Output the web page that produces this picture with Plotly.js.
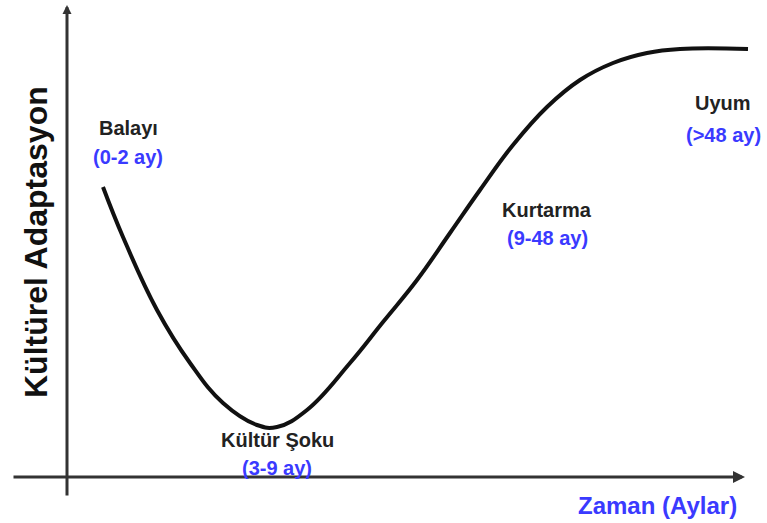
<!DOCTYPE html>
<html>
<head>
<meta charset="utf-8">
<script src="https://cdn.plot.ly/plotly-3.0.1.min.js"></script>
<style>html,body{margin:0;padding:0;background:#fff;}#chart{width:767px;height:523px;}</style>
</head>
<body>
<div id="chart"></div>
<script>
// Curve (time on x, adaptation on y; origin at axis crossing)
const curveX = [36, 56, 90, 123, 156, 190, 210, 240, 283, 316, 350, 383, 413, 446, 480, 513, 546, 580, 613, 681];
const curveY = [290, 240, 167, 114, 74, 52, 50, 67, 114, 155, 197, 244, 287, 332, 370, 397, 414, 424, 428, 428];

const phaseNames = ["Balayı", "Kültür Şoku", "Kurtarma", "Uyum"];
const phaseRanges = ["(0-2 ay)", "(3-9 ay)", "(9-48 ay)", "(>48 ay)"];
const phaseX = [61, 210, 480, 656];
const phaseNameY = [349, 37, 267, 374];
const phaseRangeY = [320, 9, 239, 342];

const xTitle = "Zaman (Aylar)";
const yTitle = "Kültürel Adaptasyon";

const BLUE = "#3a3aff";
const FONT = "Liberation Sans, Arial, sans-serif";

const annotations = [];
// axes with arrows
annotations.push({x: 0, y: 472, ax: 0, ay: -20, xref: 'x', yref: 'y', axref: 'x', ayref: 'y',
  showarrow: true, arrowhead: 2, arrowsize: 0.6, arrowwidth: 3, arrowcolor: '#333', text: ''});
annotations.push({x: 678, y: 0, ax: -55, ay: 0, xref: 'x', yref: 'y', axref: 'x', ayref: 'y',
  showarrow: true, arrowhead: 2, arrowsize: 0.8, arrowwidth: 3, arrowcolor: '#333', text: ''});

for (let i = 0; i < phaseNames.length; i++) {
  annotations.push({x: phaseX[i], y: phaseNameY[i], xref: 'x', yref: 'y', showarrow: false,
    text: '<b>' + phaseNames[i] + '</b>', font: {family: FONT, size: 20, color: '#222'}});
  annotations.push({x: phaseX[i], y: phaseRangeY[i], xref: 'x', yref: 'y', showarrow: false,
    text: '<b>' + phaseRanges[i] + '</b>', font: {family: FONT, size: 20, color: BLUE}});
}
annotations.push({x: 590, y: -28, xref: 'x', yref: 'y', showarrow: false,
  text: '<b>' + xTitle + '</b>', font: {family: FONT, size: 24, color: BLUE}});
annotations.push({x: -31, y: 235, xref: 'x', yref: 'y', showarrow: false, textangle: -90,
  text: '<b>' + yTitle + '</b>', font: {family: FONT, size: 32, color: '#111'}});

Plotly.newPlot('chart', [{
  x: curveX, y: curveY, type: 'scatter', mode: 'lines',
  line: {shape: 'spline', smoothing: 1.2, color: '#111', width: 4},
  hoverinfo: 'skip'
}], {
  width: 767, height: 523,
  margin: {l: 0, r: 0, t: 0, b: 0},
  paper_bgcolor: '#fff', plot_bgcolor: '#fff',
  showlegend: false,
  xaxis: {range: [-67, 700], visible: false, fixedrange: true},
  yaxis: {range: [-46, 477], visible: false, fixedrange: true},
  annotations: annotations
}, {staticPlot: true});
</script>
</body>
</html>
